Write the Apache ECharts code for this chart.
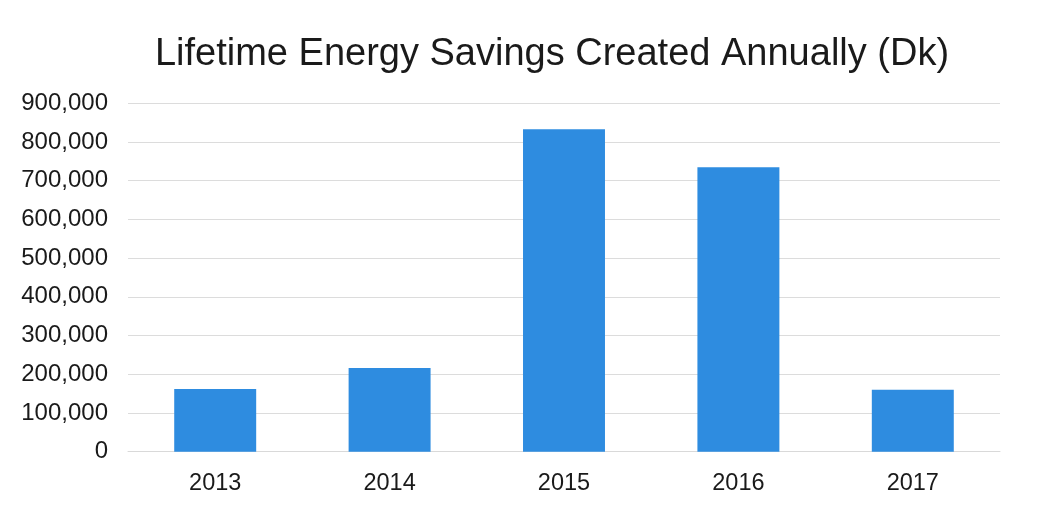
<!DOCTYPE html>
<html>
<head>
<meta charset="utf-8">
<script src="https://cdn.jsdelivr.net/npm/echarts@6/dist/echarts.min.js"></script>
<style>
html,body{margin:0;padding:0;background:#fff;}
#chart{width:1053px;height:506px;}
</style>
</head>
<body>
<div id="chart"></div>
<script>
const titleText = 'Lifetime Energy Savings Created Annually (Dk)';
const categories = ['2013', '2014', '2015', '2016', '2017'];
const savings = [162000, 216000, 833000, 735000, 160000];

const chart = echarts.init(document.getElementById('chart'), null, {renderer: 'canvas'});
chart.setOption({
  backgroundColor: '#ffffff',
  animation: false,
  title: {
    text: titleText,
    left: 547,
    textAlign: 'center',
    top: 31,
    textStyle: {fontFamily: 'Liberation Sans, Arial, sans-serif', fontSize: 38, fontWeight: 'normal', color: '#1a1a1a'}
  },
  grid: {left: 128, right: 53, top: 103.3, bottom: 54.3, containLabel: false},
  xAxis: {
    type: 'category',
    data: categories,
    axisLine: {show: true, lineStyle: {color: '#d9d9d9', width: 1}},
    axisTick: {show: false},
    axisLabel: {fontFamily: 'Liberation Sans, Arial, sans-serif', fontSize: 23.5, color: '#1a1a1a', margin: 20}
  },
  yAxis: {
    type: 'value',
    min: 0,
    max: 900000,
    interval: 100000,
    axisLine: {show: false},
    axisTick: {show: false},
    splitLine: {lineStyle: {color: '#dcdcdc', width: 1}},
    axisLabel: {
      fontFamily: 'Liberation Sans, Arial, sans-serif', fontSize: 24, color: '#1a1a1a', margin: 20,
      formatter: v => v.toLocaleString('en-US')
    }
  },
  series: [{
    type: 'bar',
    data: savings,
    barWidth: '47%',
    itemStyle: {color: '#2e8ce0'}
  }]
});
</script>
</body>
</html>
